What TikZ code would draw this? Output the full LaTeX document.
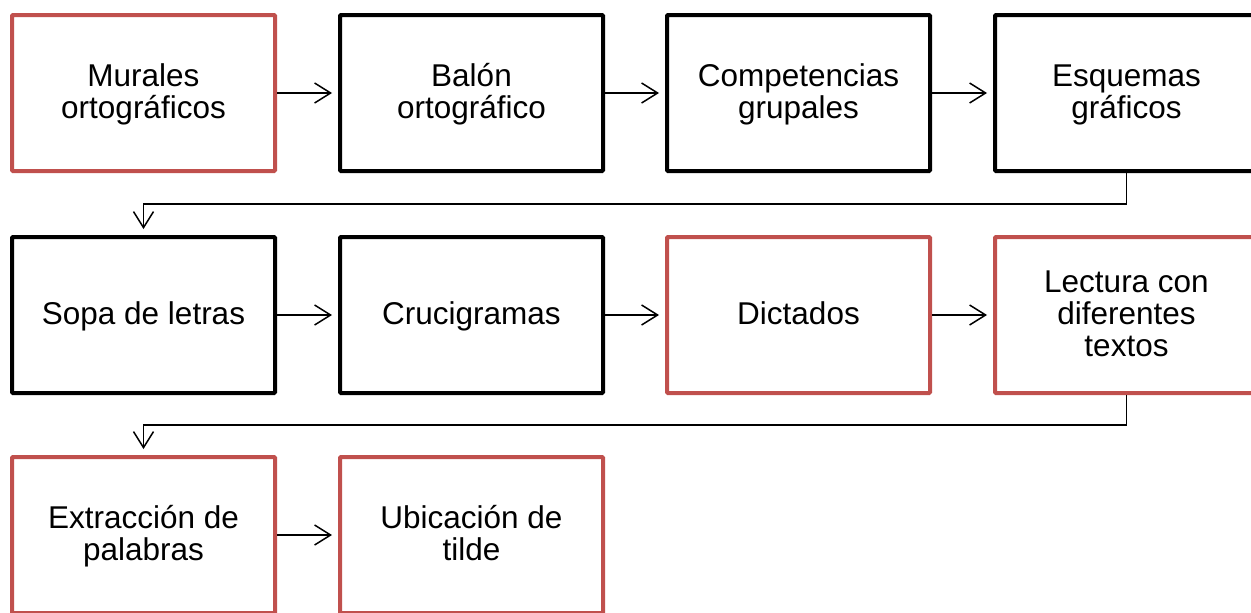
\documentclass[tikz,border=0pt]{standalone}
\usepackage{fontspec}
\setmainfont{Liberation Sans}
\usetikzlibrary{arrows.meta}
\definecolor{boxred}{HTML}{C0504D}
\newcommand\mytop{\rule{0pt}{26pt}}
\newcommand\mybot{\rule[-8pt]{0pt}{8pt}}
\begin{document}
\begin{tikzpicture}[x=1pt,y=-1pt,
  box/.style={draw=black,line width=4pt,minimum width=263pt,minimum height=156pt,
    inner sep=0pt,align=center,font=\fontsize{31.5}{32}\selectfont,rounded corners=1pt},
  redbox/.style={box,draw=boxred},
  conn/.style={line width=1.5pt,-{Straight Barb[length=16pt,width=20pt,line width=1.5pt]},shorten >=6pt}]
\useasboundingbox (0,0) rectangle (1251,613);
\clip (0,0) rectangle (1251,613);
\node[redbox] (a) at (143.5,93) {\mytop Murales\\ortográficos\mybot};
\node[box] (b) at (471.5,93) {\mytop Balón\\ortográfico\mybot};
\node[box] (c) at (798.5,93) {\mytop Competencias\\grupales\mybot};
\node[box] (d) at (1126.5,93) {\mytop Esquemas\\gráficos\mybot};
\node[box] (e) at (143.5,315) {\mytop Sopa de letras\mybot};
\node[box] (f) at (471.5,315) {\mytop Crucigramas\mybot};
\node[redbox] (g) at (798.5,315) {\mytop Dictados\mybot};
\node[redbox] (h) at (1126.5,315) {\mytop Lectura con\\diferentes\\textos\mybot};
\node[redbox] (i) at (143.5,535) {\mytop Extracción de\\palabras\mybot};
\node[redbox] (j) at (471.5,535) {\mytop Ubicación de\\tilde\mybot};
\draw[conn] (a) -- (b);
\draw[conn] (b) -- (c);
\draw[conn] (c) -- (d);
\draw[conn] (e) -- (f);
\draw[conn] (f) -- (g);
\draw[conn] (g) -- (h);
\draw[conn] (i) -- (j);
\coordinate (k1) at (1126.5,204);
\coordinate (k2) at (143.5,204);
\draw[conn] (d.south) -- (k1) -- (k2) -- (e.north);
\coordinate (m1) at (1126.5,425);
\coordinate (m2) at (143.5,425);
\draw[conn] (h.south) -- (m1) -- (m2) -- (i.north);
\end{tikzpicture}
\end{document}
